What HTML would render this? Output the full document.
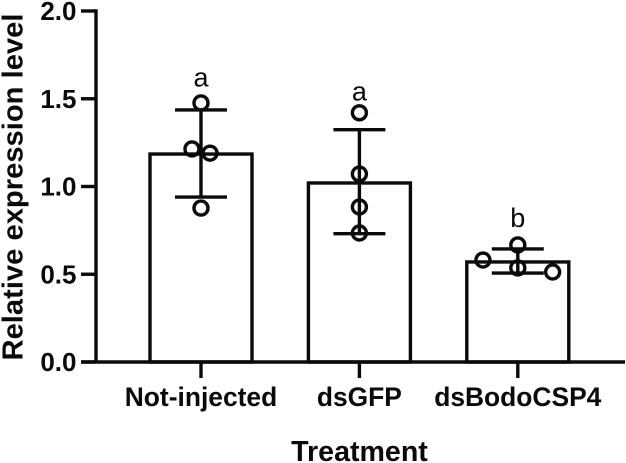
<!DOCTYPE html>
<html lang="en">
<head>
<meta charset="utf-8">
<title>Relative expression level by treatment</title>
<style>
html,body{margin:0;padding:0;background:#fff;width:626px;height:463px;overflow:hidden}
svg{display:block;filter:blur(0.35px)}
text{font-family:"Liberation Sans",sans-serif;fill:#0a0a0a}
.bold{font-weight:bold}
</style>
</head>
<body>
<svg id="chart" xmlns="http://www.w3.org/2000/svg" width="626" height="463" viewBox="0 0 626 463">
  <rect width="626" height="463" fill="#fff"/>
  <g id="bars"></g>
  <g id="errors"></g>
  <g id="points"></g>
  <g id="axes"></g>
  <g id="letters"></g>
  <text class="bold" transform="translate(22.5,360.5) rotate(-90)" font-size="29" textLength="347" lengthAdjust="spacingAndGlyphs">Relative expression level</text>
  <text class="bold" x="359.5" y="461" font-size="28.6" text-anchor="middle">Treatment</text>
</svg>
<script>
const categories = ['Not-injected', 'dsGFP', 'dsBodoCSP4'];
const means = [1.185, 1.02, 0.57];
const errorUpper = [1.436, 1.324, 0.644];
const errorLower = [0.94, 0.731, 0.507];
const replicateValues = [
  [1.476, 1.214, 1.19, 0.877],
  [1.42, 1.071, 0.883, 0.735],
  [0.667, 0.581, 0.536, 0.513]
];
const replicateJitter = [
  [0, -0.057, 0.057, 0],
  [0, 0, 0, 0],
  [0, -0.22, 0, 0.22]
];
const significance = ['a', 'a', 'b'];
const significanceValues = [1.57, 1.49, 0.77];
const yTicks = [0, 0.5, 1, 1.5, 2];
const yTickLabels = ['0.0', '0.5', '1.0', '1.5', '2.0'];

const NS = 'http://www.w3.org/2000/svg';
const STROKE = '#0a0a0a';
const SW = 3.4;
const yScale = v => 362 - v * 175.5;
const xScale = i => 201 + i * 158.4;
const BAR_W = 102;
const CAP_W = 52;
const R = 7;

function make(tag, parent, attrs) {
  const el = document.createElementNS(NS, tag);
  for (const k in attrs) el.setAttribute(k, attrs[k]);
  parent.appendChild(el);
  return el;
}
const lineStyle = {stroke: STROKE, 'stroke-width': SW, fill: 'none'};
const barsG = document.getElementById('bars');
const errG = document.getElementById('errors');
const ptsG = document.getElementById('points');
const axG = document.getElementById('axes');
const letG = document.getElementById('letters');

categories.forEach((cat, i) => {
  const cx = xScale(i);
  const bar = make('rect', barsG, Object.assign({x: cx - BAR_W / 2, y: yScale(means[i]), width: BAR_W, height: yScale(0) - yScale(means[i])}, lineStyle, {fill: '#fff'}));
  
  

  const stem = make('line', errG, Object.assign({x1: cx, x2: cx, y1: yScale(errorUpper[i]), y2: yScale(errorLower[i])}, lineStyle));
  
  
  [errorUpper[i], errorLower[i]].forEach(v => {
    const cap = make('line', errG, Object.assign({x1: cx - CAP_W / 2, x2: cx + CAP_W / 2, y1: yScale(v), y2: yScale(v)}, lineStyle));
    
    
  });

  replicateValues[i].forEach((v, j) => {
    const c = make('circle', ptsG, Object.assign({cx: xScale(i + replicateJitter[i][j]), cy: yScale(v), r: R}, lineStyle));
    
    
  });

  const tick = make('line', axG, Object.assign({x1: cx, x2: cx, y1: yScale(0), y2: yScale(0) + 16}, lineStyle));
  
  

  const lab = make('text', axG, {x: cx, y: 406, 'font-size': 26.4, 'text-anchor': 'middle', class: 'bold'});
  lab.textContent = cat;
  
  

  const sig = make('text', letG, {x: cx, y: yScale(significanceValues[i]), 'font-size': 27, 'text-anchor': 'middle'});
  sig.textContent = significance[i];
  
  
});

const yAxis = make('line', axG, Object.assign({x1: 96, x2: 96, y1: yScale(2) - SW / 2, y2: yScale(0)}, lineStyle));


const xAxis = make('line', axG, Object.assign({x1: 81, x2: 625, y1: yScale(0), y2: yScale(0)}, lineStyle));



yTicks.forEach((t, i) => {
  const tick = make('line', axG, Object.assign({x1: 81, x2: 96, y1: yScale(t), y2: yScale(t)}, lineStyle));
  
  
  const lab = make('text', axG, {x: 76.5, y: yScale(t) + 9, 'font-size': 26, 'text-anchor': 'end', class: 'bold'});
  lab.textContent = yTickLabels[i];
  
  
});
</script>
</body>
</html>
